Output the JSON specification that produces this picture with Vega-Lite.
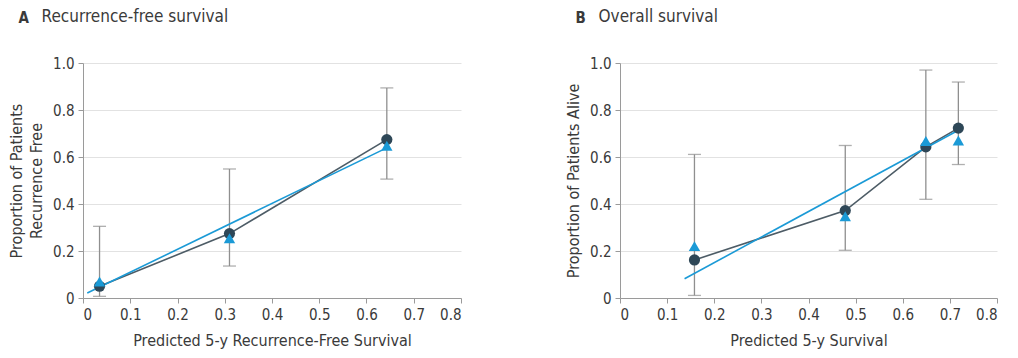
{
  "$schema": "https://vega.github.io/schema/vega-lite/v6.json",
  "background": "white",
  "padding": {"left": 8, "top": 8, "right": 5, "bottom": 5},
  "config": {
    "view": {"stroke": null},
    "font": "Liberation Sans Narrow, DejaVu Sans Condensed, Liberation Sans, sans-serif",
    "axis": {
      "labelFont": "Liberation Sans Narrow, DejaVu Sans Condensed, Liberation Sans, sans-serif",
      "titleFont": "Liberation Sans Narrow, DejaVu Sans Condensed, Liberation Sans, sans-serif",
      "labelFontSize": 15,
      "titleFontSize": 16,
      "titleFontWeight": "normal",
      "titleLineHeight": 20,
      "labelColor": "#3a3a3a",
      "titleColor": "#3a3a3a",
      "domainColor": "#9a9a9a",
      "tickColor": "#9a9a9a",
      "tickSize": 5,
      "gridColor": "#e2e2e2",
      "labelPadding": 4
    },
    "title": {
      "font": "Liberation Sans Narrow, DejaVu Sans Condensed, Liberation Sans, sans-serif",
      "fontSize": 17,
      "fontWeight": "normal",
      "color": "#3a3a3a",
      "anchor": "start",
      "frame": "bounds"
    }
  },
  "datasets": {
    "A_pts": [
      {"pred": 0.035, "obs": 0.05, "tri": 0.07, "lo": 0.007, "hi": 0.305},
      {"pred": 0.31, "obs": 0.274, "tri": 0.254, "lo": 0.136, "hi": 0.549},
      {"pred": 0.643, "obs": 0.674, "tri": 0.648, "lo": 0.506, "hi": 0.894}
    ],
    "A_fit": [
      {"pred": 0.009, "fit": 0.021},
      {"pred": 0.645, "fit": 0.641}
    ],
    "B_pts": [
      {"pred": 0.158, "obs": 0.162, "tri": 0.221, "lo": 0.011, "hi": 0.611},
      {"pred": 0.478, "obs": 0.372, "tri": 0.348, "lo": 0.203, "hi": 0.649},
      {"pred": 0.649, "obs": 0.643, "tri": 0.668, "lo": 0.42, "hi": 0.97},
      {"pred": 0.718, "obs": 0.723, "tri": 0.67, "lo": 0.568, "hi": 0.919}
    ],
    "B_fit": [
      {"pred": 0.137, "fit": 0.082},
      {"pred": 0.718, "fit": 0.714}
    ]
  },
  "hconcat": [
    {
      "title": {"text": "A", "fontWeight": "bold", "fontSize": 15, "dx": 10, "dy": 22},
      "vconcat": [
        {
          "title": {"text": "Recurrence-free survival", "dx": 33, "offset": 30},
          "width": 378,
          "height": 235,
          "layer": [
            {
              "data": {"name": "A_pts"},
              "mark": {"type": "rule", "color": "#8f8f8f", "strokeWidth": 1.3},
              "encoding": {
                "x": {"field": "pred", "type": "quantitative", "scale": {"domain": [0, 0.8], "nice": false},
                  "axis": {"values": [0, 0.1, 0.2, 0.3, 0.4, 0.5, 0.6, 0.7, 0.8], "grid": false,
                    "labelExpr": "datum.value == 0 ? '0' : format(datum.value, '.1f')",
                    "title": "Predicted 5-y Recurrence-Free Survival", "titlePadding": 10}},
                "y": {"field": "lo", "type": "quantitative", "scale": {"domain": [0, 1], "nice": false},
                  "axis": {"values": [0, 0.2, 0.4, 0.6, 0.8, 1.0], "grid": true,
                    "labelExpr": "datum.value == 0 ? '0' : format(datum.value, '.1f')",
                    "title": ["Proportion of Patients", "Recurrence Free"], "titlePadding": 8}},
                "y2": {"field": "hi"}
              }
            },
            {
              "data": {"name": "A_pts"},
              "mark": {"type": "tick", "orient": "horizontal", "size": 13, "thickness": 1.3, "color": "#8f8f8f"},
              "encoding": {"x": {"field": "pred", "type": "quantitative"}, "y": {"field": "hi", "type": "quantitative"}}
            },
            {
              "data": {"name": "A_pts"},
              "mark": {"type": "tick", "orient": "horizontal", "size": 13, "thickness": 1.3, "color": "#8f8f8f"},
              "encoding": {"x": {"field": "pred", "type": "quantitative"}, "y": {"field": "lo", "type": "quantitative"}}
            },
            {
              "data": {"name": "A_pts"},
              "mark": {"type": "line", "color": "#4d5c66", "strokeWidth": 1.6},
              "encoding": {"x": {"field": "pred", "type": "quantitative"}, "y": {"field": "obs", "type": "quantitative"}}
            },
            {
              "data": {"name": "A_fit"},
              "mark": {"type": "line", "color": "#1b9ad6", "strokeWidth": 1.6},
              "encoding": {"x": {"field": "pred", "type": "quantitative"}, "y": {"field": "fit", "type": "quantitative"}}
            },
            {
              "data": {"name": "A_pts"},
              "mark": {"type": "point", "shape": "circle", "filled": true, "opacity": 1, "size": 125, "color": "#2e4757"},
              "encoding": {"x": {"field": "pred", "type": "quantitative"}, "y": {"field": "obs", "type": "quantitative"}}
            },
            {
              "data": {"name": "A_pts"},
              "mark": {"type": "point", "shape": "triangle-up", "filled": true, "opacity": 1, "size": 130, "color": "#1b9ad6"},
              "encoding": {"x": {"field": "pred", "type": "quantitative"}, "y": {"field": "tri", "type": "quantitative"}}
            }
          ]
        }
      ]
    },
    {
      "title": {"text": "B", "fontWeight": "bold", "fontSize": 15, "dx": 10, "dy": 22},
      "vconcat": [
        {
          "title": {"text": "Overall survival", "dx": 33, "offset": 30},
          "width": 377,
          "height": 235,
          "layer": [
            {
              "data": {"name": "B_pts"},
              "mark": {"type": "rule", "color": "#8f8f8f", "strokeWidth": 1.3},
              "encoding": {
                "x": {"field": "pred", "type": "quantitative", "scale": {"domain": [0, 0.8], "nice": false},
                  "axis": {"values": [0, 0.1, 0.2, 0.3, 0.4, 0.5, 0.6, 0.7, 0.8], "grid": false,
                    "labelExpr": "datum.value == 0 ? '0' : format(datum.value, '.1f')",
                    "title": "Predicted 5-y Survival", "titlePadding": 10}},
                "y": {"field": "lo", "type": "quantitative", "scale": {"domain": [0, 1], "nice": false},
                  "axis": {"values": [0, 0.2, 0.4, 0.6, 0.8, 1.0], "grid": true,
                    "labelExpr": "datum.value == 0 ? '0' : format(datum.value, '.1f')",
                    "title": "Proportion of Patients Alive", "titlePadding": 8}},
                "y2": {"field": "hi"}
              }
            },
            {
              "data": {"name": "B_pts"},
              "mark": {"type": "tick", "orient": "horizontal", "size": 13, "thickness": 1.3, "color": "#8f8f8f"},
              "encoding": {"x": {"field": "pred", "type": "quantitative"}, "y": {"field": "hi", "type": "quantitative"}}
            },
            {
              "data": {"name": "B_pts"},
              "mark": {"type": "tick", "orient": "horizontal", "size": 13, "thickness": 1.3, "color": "#8f8f8f"},
              "encoding": {"x": {"field": "pred", "type": "quantitative"}, "y": {"field": "lo", "type": "quantitative"}}
            },
            {
              "data": {"name": "B_pts"},
              "mark": {"type": "line", "color": "#4d5c66", "strokeWidth": 1.6},
              "encoding": {"x": {"field": "pred", "type": "quantitative"}, "y": {"field": "obs", "type": "quantitative"}}
            },
            {
              "data": {"name": "B_fit"},
              "mark": {"type": "line", "color": "#1b9ad6", "strokeWidth": 1.6},
              "encoding": {"x": {"field": "pred", "type": "quantitative"}, "y": {"field": "fit", "type": "quantitative"}}
            },
            {
              "data": {"name": "B_pts"},
              "mark": {"type": "point", "shape": "circle", "filled": true, "opacity": 1, "size": 125, "color": "#2e4757"},
              "encoding": {"x": {"field": "pred", "type": "quantitative"}, "y": {"field": "obs", "type": "quantitative"}}
            },
            {
              "data": {"name": "B_pts"},
              "mark": {"type": "point", "shape": "triangle-up", "filled": true, "opacity": 1, "size": 130, "color": "#1b9ad6"},
              "encoding": {"x": {"field": "pred", "type": "quantitative"}, "y": {"field": "tri", "type": "quantitative"}}
            }
          ]
        }
      ]
    }
  ],
  "spacing": 103
}
